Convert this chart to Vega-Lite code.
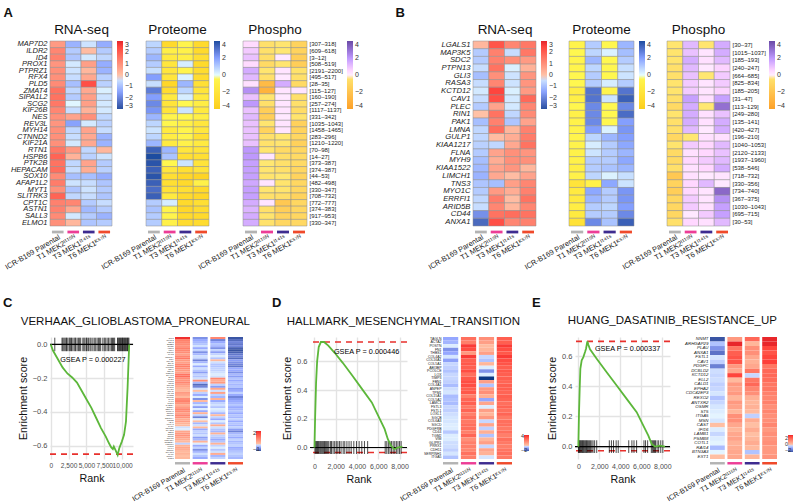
{
"$schema":"https://vega.github.io/schema/vega-lite/v6.json",
"padding":{"left":3,"top":6,"right":0,"bottom":0},
"config":{"font":"Liberation Sans","view":{"stroke":null},
 "axis":{"labelFont":"Liberation Sans","titleFont":"Liberation Sans","labelColor":"#222222","titleColor":"#111111"},
 "legend":{"labelFont":"Liberation Sans","labelFontSize":7,"labelColor":"#333333"},
 "title":{"font":"Liberation Sans","fontWeight":"normal","fontSize":13.5,"offset":4,"color":"#111111"}},
"datasets":{
"A":[
{"g":"MAP7D2","k":"MAP7D2|[307–318]","rP":0.8,"rT1":-1.2,"rT3":-0.4,"rT6":-1.3,"pP":0.8,"pT1":-3,"pT3":-0.5,"pT6":-3,"fP":0.4,"fT1":-0.5,"fT3":-0.2,"fT6":-1.2},
{"g":"ILDR2","k":"ILDR2|[609–618]","rP":1.2,"rT1":-0.8,"rT3":0.1,"rT6":-0.8,"pP":1.0,"pT1":-1.0,"pT3":-0.8,"pT6":-3,"fP":0.8,"fT1":-0.5,"fT3":-0.1,"fT6":-1.2},
{"g":"ID4","k":"ID4|[3–12]","rP":1.3,"rT1":-0.9,"rT3":-0.3,"rT6":-0.6,"pP":1.5,"pT1":-1.5,"pT3":-1,"pT6":-2.5,"fP":1.0,"fT1":-0.6,"fT3":0.1,"fT6":-1.5},
{"g":"PROX1","k":"PROX1|[508–519]","rP":0.9,"rT1":-0.3,"rT3":0.7,"rT6":-1.3,"pP":1.0,"pT1":-1.8,"pT3":0.3,"pT6":-3,"fP":0.4,"fT1":-0.8,"fT3":-0.2,"fT6":-1.5},
{"g":"PTPRZ1","k":"PTPRZ1|[2191–2200]","rP":1.0,"rT1":-0.4,"rT3":0.2,"rT6":-1.2,"pP":0.6,"pT1":-1.8,"pT3":-0.5,"pT6":-2.8,"fP":1.5,"fT1":-0.2,"fT3":0.2,"fT6":-0.4},
{"g":"RFX4","k":"RFX4|[495–517]","rP":1.0,"rT1":-0.5,"rT3":0.5,"rT6":-0.7,"pP":2.0,"pT1":-1.8,"pT3":0.2,"pT6":-2.8,"fP":1.2,"fT1":-0.5,"fT3":0.1,"fT6":-0.5},
{"g":"PLD5","k":"PLD5|[28–35]","rP":1.1,"rT1":-1.0,"rT3":2.3,"rT6":-0.7,"pP":0.6,"pT1":-3.2,"pT3":1.5,"pT6":-2.4,"fP":0.3,"fT1":-2.5,"fT3":1.5,"fT6":-0.8},
{"g":"ZMAT4","k":"ZMAT4|[115–127]","rP":1.6,"rT1":-0.6,"rT3":0.5,"rT6":-0.2,"pP":2.8,"pT1":-2.8,"pT3":0.8,"pT6":-2,"fP":2.2,"fT1":-3.0,"fT3":0.2,"fT6":0.2},
{"g":"SIPA1L2","k":"SIPA1L2|[160–190]","rP":1.6,"rT1":-0.8,"rT3":0.7,"rT6":-0.4,"pP":2.0,"pT1":-1.5,"pT3":0.3,"pT6":-1.5,"fP":1.0,"fT1":-0.2,"fT3":0.1,"fT6":-0.5},
{"g":"SCG2","k":"SCG2|[257–274]","rP":1.5,"rT1":-0.1,"rT3":0.7,"rT6":-0.3,"pP":2.5,"pT1":-2.0,"pT3":-0.2,"pT6":-1.2,"fP":2.0,"fT1":-0.5,"fT3":0.2,"fT6":-0.5},
{"g":"KIF26B","k":"KIF26B|[1117–1137]","rP":1.2,"rT1":-0.5,"rT3":0.3,"rT6":-0.3,"pP":2.2,"pT1":-2.0,"pT3":0.5,"pT6":-1.6,"fP":1.0,"fT1":-1.5,"fT3":0.2,"fT6":-0.7},
{"g":"NES","k":"NES|[331–342]","rP":1.0,"rT1":0.6,"rT3":1.0,"rT6":-0.6,"pP":1.5,"pT1":-0.5,"pT3":-0.3,"pT6":-1.0,"fP":1.2,"fT1":-1.5,"fT3":0.1,"fT6":-0.3},
{"g":"REV3L","k":"REV3L|[1035–1043]","rP":0.9,"rT1":-1.5,"rT3":-0.3,"rT6":-0.7,"pP":0.8,"pT1":-0.4,"pT3":-1.0,"pT6":-1.8,"fP":1.0,"fT1":-0.2,"fT3":0.2,"fT6":-1.3},
{"g":"MYH14","k":"MYH14|[1458–1465]","rP":1.0,"rT1":-0.6,"rT3":0.6,"rT6":-0.5,"pP":0.5,"pT1":-1.5,"pT3":-0.5,"pT6":-1.8,"fP":1.0,"fT1":-1.2,"fT3":0.2,"fT6":-1.2},
{"g":"CTNND2","k":"CTNND2|[283–296]","rP":1.0,"rT1":-0.5,"rT3":0.5,"rT6":-1.2,"pP":0.8,"pT1":-1.2,"pT3":-0.5,"pT6":-2.5,"fP":1.0,"fT1":-0.5,"fT3":-0.1,"fT6":-1.0},
{"g":"KIF21A","k":"KIF21A|[1210–1220]","rP":1.0,"rT1":-0.3,"rT3":0.5,"rT6":-1.2,"pP":1.5,"pT1":-1.5,"pT3":-0.8,"pT6":-1.5,"fP":1.0,"fT1":-0.4,"fT3":-0.2,"fT6":-1.3},
{"g":"RTN1","k":"RTN1|[70–98]","rP":1.5,"rT1":0.8,"rT3":-0.6,"rT6":0.2,"pP":3.5,"pT1":1.5,"pT3":-1.8,"pT6":-2,"fP":2.0,"fT1":-0.2,"fT3":-0.8,"fT6":-1.0},
{"g":"HSPB6","k":"HSPB6|[14–27]","rP":1.9,"rT1":0.3,"rT3":-0.7,"rT6":-0.4,"pP":4.0,"pT1":1.2,"pT3":-2.5,"pT6":-2.5,"fP":2.0,"fT1":0.2,"fT3":-0.6,"fT6":-0.8},
{"g":"PTK2B","k":"PTK2B|[373–387]","rP":1.6,"rT1":-0.6,"rT3":0.6,"rT6":-0.8,"pP":3.8,"pT1":-0.3,"pT3":0.5,"pT6":-2,"fP":1.8,"fT1":-0.1,"fT3":-0.5,"fT6":-0.8},
{"g":"HEPACAM","k":"HEPACAM|[374–387]","rP":1.7,"rT1":-0.5,"rT3":0.4,"rT6":-0.7,"pP":3.5,"pT1":-1.8,"pT3":-2.5,"pT6":-2.0,"fP":1.8,"fT1":-0.2,"fT3":-0.5,"fT6":-1.0},
{"g":"SOX10","k":"SOX10|[44–53]","rP":1.1,"rT1":-1.0,"rT3":-1.0,"rT6":-1.3,"pP":3.8,"pT1":-2.5,"pT3":-3.2,"pT6":-3.5,"fP":1.8,"fT1":-0.3,"fT3":-0.1,"fT6":-1.2},
{"g":"AFAP1L2","k":"AFAP1L2|[482–498]","rP":1.4,"rT1":-0.4,"rT3":-0.5,"rT6":-0.9,"pP":3.5,"pT1":-2.5,"pT3":-3,"pT6":-0.8,"fP":1.6,"fT1":0.2,"fT3":-0.3,"fT6":-1.0},
{"g":"MYT1","k":"MYT1|[330–347]","rP":1.0,"rT1":-0.9,"rT3":-0.4,"rT6":-0.8,"pP":3.2,"pT1":-2.2,"pT3":-2.5,"pT6":-3,"fP":1.8,"fT1":-0.2,"fT3":-0.3,"fT6":-1.0},
{"g":"SLITRK3","k":"SLITRK3|[708–732]","rP":1.9,"rT1":-0.6,"rT3":-0.5,"rT6":-0.9,"pP":3.5,"pT1":-1.5,"pT3":-3,"pT6":-3.2,"fP":1.8,"fT1":-0.5,"fT3":-0.6,"fT6":-1.2},
{"g":"CPT1C","k":"CPT1C|[772–777]","rP":1.3,"rT1":1.2,"rT3":-0.8,"rT6":-0.5,"pP":1.0,"pT1":0.3,"pT3":-3,"pT6":-2.5,"fP":1.5,"fT1":0.2,"fT3":-1.8,"fT6":-1.0},
{"g":"ASTN1","k":"ASTN1|[374–383]","rP":1.3,"rT1":0.5,"rT3":-1.1,"rT6":-0.8,"pP":1.2,"pT1":-0.5,"pT3":-3.2,"pT6":-2.8,"fP":1.3,"fT1":-0.5,"fT3":-1.5,"fT6":-1.0},
{"g":"SALL3","k":"SALL3|[917–953]","rP":1.1,"rT1":-0.3,"rT3":-0.8,"rT6":-1.2,"pP":1.0,"pT1":-0.5,"pT3":-3.0,"pT6":-3.0,"fP":1.5,"fT1":-0.3,"fT3":-1.2,"fT6":-1.0},
{"g":"ELMO1","k":"ELMO1|[330–347]","rP":1.0,"rT1":0.2,"rT3":-0.9,"rT6":-0.8,"pP":1.0,"pT1":-0.8,"pT3":-2.8,"pT6":-2.8,"fP":1.5,"fT1":-0.4,"fT3":-1.0,"fT6":-0.9}
],
"B":[
{"g":"LGALS1","k":"LGALS1|[30–37]","rP":0.2,"rT1":2.2,"rT3":1.2,"rT6":1.5,"pP":-0.6,"pT1":1.0,"pT3":-0.3,"pT6":1.5,"fP":-0.2,"fT1":1.2,"fT3":-0.2,"fT6":1.5},
{"g":"MAP3K5","k":"MAP3K5|[1015–1037]","rP":-0.8,"rT1":1.3,"rT3":-0.5,"rT6":1.5,"pP":-0.3,"pT1":0.8,"pT3":0.2,"pT6":1.3,"fP":-0.3,"fT1":1.0,"fT3":0.2,"fT6":1.5},
{"g":"SDC2","k":"SDC2|[185–193]","rP":-0.8,"rT1":1.3,"rT3":1.0,"rT6":0.8,"pP":-0.5,"pT1":1.5,"pT3":-0.2,"pT6":1.0,"fP":-0.3,"fT1":1.5,"fT3":0.3,"fT6":1.2},
{"g":"PTPN13","k":"PTPN13|[240–247]","rP":-0.5,"rT1":1.6,"rT3":-0.2,"rT6":0.3,"pP":-0.5,"pT1":0.8,"pT3":-0.3,"pT6":0.6,"fP":-0.5,"fT1":1.2,"fT3":0.1,"fT6":0.6},
{"g":"GLI3","k":"GLI3|[664–685]","rP":-1.0,"rT1":1.0,"rT3":-0.4,"rT6":0.9,"pP":-0.3,"pT1":1.0,"pT3":-0.3,"pT6":0.5,"fP":-0.5,"fT1":1.0,"fT3":-0.1,"fT6":0.8},
{"g":"RASA3","k":"RASA3|[825–834]","rP":-0.5,"rT1":1.2,"rT3":-0.4,"rT6":0.9,"pP":-0.3,"pT1":1.0,"pT3":0.3,"pT6":1.0,"fP":-0.3,"fT1":0.8,"fT3":0.2,"fT6":0.8},
{"g":"KCTD12","k":"KCTD12|[185–205]","rP":-0.3,"rT1":2.5,"rT3":-0.2,"rT6":0.8,"pP":-1.2,"pT1":3.0,"pT3":-0.5,"pT6":3.0,"fP":-0.3,"fT1":0.8,"fT3":0.2,"fT6":0.6},
{"g":"CAV1","k":"CAV1|[31–47]","rP":-0.5,"rT1":2.3,"rT3":-0.3,"rT6":1.8,"pP":-1.0,"pT1":3.0,"pT3":0.5,"pT6":3.5,"fP":-0.5,"fT1":1.8,"fT3":0.3,"fT6":1.8},
{"g":"PLEC","k":"PLEC|[113–129]","rP":-0.8,"rT1":0.6,"rT3":-0.3,"rT6":1.2,"pP":-0.4,"pT1":2.5,"pT3":-0.2,"pT6":2.5,"fP":-0.8,"fT1":1.5,"fT3":-0.1,"fT6":3.0},
{"g":"RIN1","k":"RIN1|[249–280]","rP":0.0,"rT1":1.6,"rT3":-0.6,"rT6":1.1,"pP":-0.8,"pT1":2.5,"pT3":-0.2,"pT6":3.2,"fP":-0.3,"fT1":1.5,"fT3":0.3,"fT6":1.0},
{"g":"PAK1","k":"PAK1|[135–141]","rP":-1.0,"rT1":1.3,"rT3":-0.9,"rT6":0.6,"pP":-0.7,"pT1":2.5,"pT3":-0.3,"pT6":2.0,"fP":-0.5,"fT1":1.5,"fT3":0.3,"fT6":1.5},
{"g":"LMNA","k":"LMNA|[420–427]","rP":-0.6,"rT1":1.7,"rT3":0.2,"rT6":1.3,"pP":-0.6,"pT1":2.0,"pT3":0.2,"pT6":2.2,"fP":-0.5,"fT1":1.2,"fT3":0.1,"fT6":1.5},
{"g":"GULP1","k":"GULP1|[196–210]","rP":-0.6,"rT1":0.1,"rT3":0.4,"rT6":1.4,"pP":-0.5,"pT1":0.8,"pT3":1.5,"pT6":2.0,"fP":-1.0,"fT1":-0.1,"fT3":0.3,"fT6":0.3},
{"g":"KIAA1217","k":"KIAA1217|[1040–1053]","rP":-0.7,"rT1":-0.6,"rT3":0.5,"rT6":1.6,"pP":-0.6,"pT1":0.3,"pT3":1.0,"pT6":1.8,"fP":-0.3,"fT1":0.8,"fT3":0.5,"fT6":1.2},
{"g":"FLNA","k":"FLNA|[2120–2133]","rP":-0.8,"rT1":0.6,"rT3":1.0,"rT6":0.9,"pP":-0.8,"pT1":0.5,"pT3":1.0,"pT6":1.5,"fP":-0.8,"fT1":0.3,"fT3":0.5,"fT6":1.0},
{"g":"MYH9","k":"MYH9|[1937–1960]","rP":-1.0,"rT1":0.4,"rT3":1.0,"rT6":1.0,"pP":-0.8,"pT1":1.0,"pT3":1.0,"pT6":1.8,"fP":-0.8,"fT1":0.5,"fT3":0.8,"fT6":1.2},
{"g":"KIAA1522","k":"KIAA1522|[538–546]","rP":-1.1,"rT1":0.6,"rT3":0.9,"rT6":0.2,"pP":-1.0,"pT1":1.0,"pT3":1.2,"pT6":1.5,"fP":-0.5,"fT1":0.3,"fT3":0.5,"fT6":1.5},
{"g":"LIMCH1","k":"LIMCH1|[718–732]","rP":-1.2,"rT1":0.5,"rT3":0.1,"rT6":0.6,"pP":-0.8,"pT1":0.8,"pT3":0.2,"pT6":0.6,"fP":-1.8,"fT1":0.3,"fT3":0.1,"fT6":0.2},
{"g":"TNS3","k":"TNS3|[330–356]","rP":-0.9,"rT1":-1.0,"rT3":0.7,"rT6":1.2,"pP":-2.0,"pT1":-0.8,"pT3":1.8,"pT6":0.5,"fP":-1.2,"fT1":0.5,"fT3":1.2,"fT6":0.1},
{"g":"MYO1C","k":"MYO1C|[734–740]","rP":-0.8,"rT1":0.8,"rT3":0.4,"rT6":1.3,"pP":-1.5,"pT1":1.8,"pT3":1.0,"pT6":2.2,"fP":-1.5,"fT1":0.5,"fT3":0.2,"fT6":3.2},
{"g":"ERRFI1","k":"ERRFI1|[367–375]","rP":-0.6,"rT1":1.4,"rT3":0.1,"rT6":1.6,"pP":-1.5,"pT1":1.5,"pT3":1.0,"pT6":2.2,"fP":-1.0,"fT1":0.8,"fT3":0.2,"fT6":2.2},
{"g":"ARID5B","k":"ARID5B|[1030–1043]","rP":-0.5,"rT1":1.2,"rT3":0.2,"rT6":1.2,"pP":-1.2,"pT1":1.0,"pT3":0.8,"pT6":2.0,"fP":-1.0,"fT1":0.8,"fT3":0.3,"fT6":1.8},
{"g":"CD44","k":"CD44|[695–715]","rP":-1.8,"rT1":1.6,"rT3":1.7,"rT6":1.6,"pP":-1.5,"pT1":1.0,"pT3":1.0,"pT6":2.5,"fP":-1.0,"fT1":0.1,"fT3":0.8,"fT6":1.8},
{"g":"ANXA1","k":"ANXA1|[30–53]","rP":-2.5,"rT1":2.3,"rT3":1.2,"rT6":1.3,"pP":-2.2,"pT1":2.5,"pT3":1.2,"pT6":3.5,"fP":-0.5,"fT1":0.5,"fT3":0.3,"fT6":1.2}
],
"C":[
{"g":"DLL3","P":2.2,"T1":-0.8,"T3":0.9,"T6":-1.3},{"g":"NKX2-2","P":1.0,"T1":-0.6,"T3":-0.9,"T6":-1.1},{"g":"SOX2","P":0.9,"T1":-0.5,"T3":-0.6,"T6":-0.9},{"g":"ERBB3","P":0.8,"T1":-0.4,"T3":-0.4,"T6":-1.0},{"g":"OLIG2","P":0.7,"T1":-0.2,"T3":-0.5,"T6":-0.9},{"g":"ASCL1","P":1.0,"T1":-0.6,"T3":-0.8,"T6":-1.2},{"g":"TCF4","P":0.9,"T1":-0.3,"T3":-0.3,"T6":-1.3},{"g":"SOX10","P":0.8,"T1":-0.8,"T3":-0.7,"T6":-1.2},{"g":"MAP2","P":0.5,"T1":-0.5,"T3":-0.3,"T6":-1.0},{"g":"PDGFRA","P":0.9,"T1":-0.2,"T3":-0.1,"T6":-0.9},
{"g":"DCX","P":1.1,"T1":-0.3,"T3":-0.4,"T6":-1.1},{"g":"NCAM1","P":0.6,"T1":-0.9,"T3":0.1,"T6":-0.7},{"g":"BCAN","P":0.5,"T1":-0.5,"T3":-0.2,"T6":-0.8},{"g":"GPR17","P":0.9,"T1":-0.1,"T3":-0.4,"T6":-0.9},{"g":"PTPRZ1","P":1.0,"T1":-0.6,"T3":-0.4,"T6":-1.0},{"g":"SOX4","P":0.8,"T1":-0.2,"T3":-0.3,"T6":-0.6},{"g":"SOX11","P":0.6,"T1":-0.4,"T3":-0.3,"T6":-0.6},{"g":"TMEFF1","P":0.5,"T1":-0.7,"T3":-0.2,"T6":-0.8},{"g":"ELAVL3","P":1.2,"T1":-0.3,"T3":-0.1,"T6":-0.5},{"g":"DPF1","P":1.3,"T1":-0.4,"T3":-0.2,"T6":-0.7},
{"g":"CHD7","P":0.8,"T1":-0.2,"T3":0.9,"T6":-0.4},{"g":"KLRC3","P":0.7,"T1":0.8,"T3":0.3,"T6":-0.6},{"g":"UGT8","P":0.9,"T1":-0.5,"T3":0.6,"T6":-0.4},{"g":"NRXN2","P":0.6,"T1":-1.1,"T3":-0.3,"T6":-0.5},{"g":"MAST1","P":0.4,"T1":-0.9,"T3":-0.7,"T6":-0.4},{"g":"FXYD6","P":0.2,"T1":-0.2,"T3":0.4,"T6":-0.7},{"g":"GRIA2","P":0.1,"T1":0.0,"T3":-0.2,"T6":-0.6},{"g":"HDAC2","P":0.6,"T1":-0.3,"T3":0.5,"T6":-0.3},{"g":"KIF21B","P":0.4,"T1":-0.6,"T3":-0.3,"T6":-0.6},{"g":"MLLT11","P":0.1,"T1":-0.1,"T3":-0.5,"T6":-0.9},
{"g":"MYT1","P":0.8,"T1":-0.8,"T3":0.2,"T6":-0.7},{"g":"PAK7","P":1.0,"T1":0.1,"T3":-0.6,"T6":-0.6},{"g":"PLCL1","P":0.7,"T1":-0.5,"T3":-0.3,"T6":-0.5},{"g":"RAB33A","P":0.3,"T1":-0.2,"T3":-0.2,"T6":-0.4},{"g":"SCN3A","P":0.6,"T1":-0.7,"T3":-0.4,"T6":-0.6},{"g":"SEMA6A","P":0.9,"T1":-0.1,"T3":-0.1,"T6":-0.5},{"g":"SLC1A1","P":0.8,"T1":-0.6,"T3":-0.2,"T6":-0.4},{"g":"STMN4","P":0.5,"T1":0.2,"T3":-0.5,"T6":-0.6},{"g":"ZNF711","P":0.9,"T1":-0.3,"T3":0.1,"T6":-0.4},{"g":"ZNF804A","P":0.7,"T1":-0.9,"T3":-0.3,"T6":-0.5},
{"g":"TOP2B","P":0.3,"T1":-0.1,"T3":-0.6,"T6":-0.3},{"g":"ABAT","P":0.5,"T1":0.0,"T3":-0.1,"T6":-0.6},{"g":"ATP1A3","P":0.2,"T1":-0.5,"T3":-0.4,"T6":-0.4},{"g":"CASK","P":0.1,"T1":-0.2,"T3":0.3,"T6":-0.5},{"g":"CDK5R1","P":-0.2,"T1":0.1,"T3":-0.2,"T6":-0.3},{"g":"CLASP2","P":-0.1,"T1":-0.6,"T3":-0.4,"T6":-0.7},{"g":"DBN1","P":0.4,"T1":-0.3,"T3":-0.5,"T6":-0.9},{"g":"DNM3","P":0.6,"T1":-0.4,"T3":0.2,"T6":-0.5},{"g":"GRIK2","P":0.7,"T1":-0.2,"T3":-0.3,"T6":-0.4},{"g":"NRXN1","P":0.5,"T1":-0.7,"T3":-0.4,"T6":-0.6},
{"g":"PCDH11X","P":0.3,"T1":-0.5,"T3":-0.6,"T6":-0.3},{"g":"TMSB15A","P":0.1,"T1":0.2,"T3":-0.4,"T6":-0.5},{"g":"LRRTM4","P":-0.3,"T1":-0.1,"T3":0.2,"T6":-0.4},{"g":"FLRT1","P":0.2,"T1":-0.6,"T3":-0.3,"T6":-0.3},{"g":"KLHL4","P":0.4,"T1":-0.3,"T3":-0.1,"T6":-0.6},{"g":"CRMP1","P":0.3,"T1":-0.8,"T3":-0.4,"T6":-0.5},{"g":"DPYSL3","P":0.1,"T1":-0.5,"T3":-0.2,"T6":-0.4},{"g":"MAPT","P":0.2,"T1":-0.2,"T3":0.3,"T6":-0.3},{"g":"GPM6A","P":0.0,"T1":-0.4,"T3":-0.5,"T6":-0.4},{"g":"SCG3","P":0.1,"T1":-0.6,"T3":-0.3,"T6":-0.5}
],
"D":[
{"g":"TAGLN","P":-1.2,"T1":2.5,"T3":1.5,"T6":3.0},{"g":"ACTA2","P":-1.0,"T1":2.0,"T3":1.0,"T6":3.0},{"g":"POSTN","P":-0.2,"T1":4.0,"T3":0.1,"T6":4.0},{"g":"FN1","P":-1.5,"T1":3.5,"T3":0.3,"T6":3.5},{"g":"THBS1","P":-1.2,"T1":1.2,"T3":1.0,"T6":3.2},{"g":"COL4A2","P":-0.3,"T1":4.0,"T3":-0.5,"T6":4.0},{"g":"COL16A1","P":-1.3,"T1":3.0,"T3":-0.8,"T6":3.5},{"g":"COL5A1","P":-0.5,"T1":3.2,"T3":0.3,"T6":3.3},{"g":"ABI3BP","P":-0.6,"T1":3.0,"T3":-0.2,"T6":3.0},{"g":"PCOLCE","P":-0.8,"T1":3.5,"T3":-1.5,"T6":3.2},
{"g":"LOX","P":-0.5,"T1":2.5,"T3":-0.2,"T6":3.0},{"g":"TIMP3","P":-0.5,"T1":3.2,"T3":-3.0,"T6":3.0},{"g":"FBN1","P":-0.6,"T1":3.5,"T3":1.0,"T6":2.8},{"g":"COL4A1","P":-0.9,"T1":3.5,"T3":-0.8,"T6":3.0},{"g":"ANPEP","P":-0.4,"T1":3.0,"T3":1.2,"T6":3.0},{"g":"TPM1","P":-0.3,"T1":3.2,"T3":1.5,"T6":2.8},{"g":"COL15A1","P":-0.9,"T1":2.0,"T3":0.5,"T6":3.0},{"g":"COL5A2","P":-0.8,"T1":2.8,"T3":-1.2,"T6":2.8},{"g":"LAMC1","P":-0.9,"T1":3.0,"T3":0.8,"T6":2.5},{"g":"FSTL3","P":-0.5,"T1":2.2,"T3":-0.2,"T6":2.8},
{"g":"FSTL1","P":-0.6,"T1":2.8,"T3":1.0,"T6":2.5},{"g":"LOXL1","P":-0.4,"T1":2.0,"T3":0.3,"T6":2.8},{"g":"SGCB","P":-0.3,"T1":2.5,"T3":1.2,"T6":2.2},{"g":"COL6A3","P":-0.3,"T1":2.2,"T3":-0.5,"T6":2.5},{"g":"SGCD","P":-0.2,"T1":2.5,"T3":0.8,"T6":2.5},{"g":"PDGFRB","P":-0.2,"T1":2.5,"T3":-0.6,"T6":2.2},{"g":"CD44","P":-0.7,"T1":2.0,"T3":0.5,"T6":2.5},{"g":"TGM2","P":-0.2,"T1":2.8,"T3":-0.8,"T6":2.0},{"g":"VIM","P":-0.2,"T1":1.5,"T3":0.3,"T6":2.5},{"g":"GLIPR1","P":-0.4,"T1":2.0,"T3":1.0,"T6":2.2},
{"g":"PRRX1","P":-0.4,"T1":2.0,"T3":-0.5,"T6":2.0},{"g":"CDH11","P":-0.6,"T1":1.8,"T3":0.8,"T6":2.3},{"g":"SERPINH1","P":-0.3,"T1":2.4,"T3":0.4,"T6":2.5},{"g":"ITGA5","P":-0.8,"T1":2.0,"T3":-0.3,"T6":2.2}
],
"E":[
{"g":"NNMT","P":-2.5,"T1":0.8,"T3":1.8,"T6":3.0},{"g":"ARHGAP29","P":-0.8,"T1":3.0,"T3":0.2,"T6":3.0},{"g":"PLAU","P":-1.5,"T1":1.5,"T3":1.0,"T6":2.5},{"g":"ANXA1","P":-2.0,"T1":2.0,"T3":1.0,"T6":2.2},{"g":"FSTL1","P":-0.3,"T1":2.2,"T3":0.5,"T6":2.5},{"g":"CAV1","P":-0.6,"T1":2.2,"T3":0.3,"T6":2.6},{"g":"PDGFC","P":-1.8,"T1":0.8,"T3":0.5,"T6":1.5},{"g":"DCBLD2","P":-0.4,"T1":0.5,"T3":1.5,"T6":1.8},{"g":"KCTD12","P":-0.5,"T1":2.5,"T3":-0.5,"T6":1.8},
{"g":"ELL2","P":-0.4,"T1":0.1,"T3":1.5,"T6":1.7},{"g":"CALD1","P":-0.6,"T1":0.8,"T3":1.8,"T6":1.5},{"g":"EPHA2","P":-0.5,"T1":0.6,"T3":1.2,"T6":1.5},{"g":"CDC42EP3","P":-0.3,"T1":0.8,"T3":1.0,"T6":1.3},{"g":"REXO2","P":-0.8,"T1":0.2,"T3":0.3,"T6":1.2},{"g":"ANTXR2","P":-0.5,"T1":0.8,"T3":0.2,"T6":1.3},{"g":"OSMR","P":-0.3,"T1":0.6,"T3":0.3,"T6":1.0},{"g":"ST5","P":-0.2,"T1":0.2,"T3":0.1,"T6":1.2},{"g":"ITGA5","P":-0.1,"T1":1.0,"T3":-0.6,"T6":1.0},
{"g":"MSN","P":-0.3,"T1":1.0,"T3":0.4,"T6":1.0},{"g":"CAST","P":0.0,"T1":0.5,"T3":0.0,"T6":1.2},{"g":"IFI16","P":-0.2,"T1":0.2,"T3":0.4,"T6":0.8},{"g":"LAMB1","P":-0.5,"T1":0.5,"T3":0.0,"T6":1.0},{"g":"PSMB8","P":-0.2,"T1":0.6,"T3":0.2,"T6":0.9},{"g":"COTL1","P":-0.1,"T1":0.3,"T3":0.4,"T6":1.0},{"g":"RAI14","P":-0.9,"T1":0.4,"T3":0.1,"T6":0.8},{"g":"BTN3A3","P":-0.1,"T1":0.5,"T3":-0.8,"T6":0.8},{"g":"EXT1","P":0.0,"T1":0.5,"T3":0.2,"T6":0.9}
],
"cCurve":[{"rank":0,"es":0},{"rank":314,"es":-0.036},{"rank":987,"es":-0.086},{"rank":1659,"es":-0.136},{"rank":2332,"es":-0.172},{"rank":3004,"es":-0.196},{"rank":3677,"es":-0.226},{"rank":4350,"es":-0.276},{"rank":5022,"es":-0.326},{"rank":5695,"es":-0.376},{"rank":6368,"es":-0.436},{"rank":7040,"es":-0.496},{"rank":7713,"es":-0.546},{"rank":8161,"es":-0.586},{"rank":8475,"es":-0.61},{"rank":8700,"es":-0.62},{"rank":8834,"es":-0.605},{"rank":9058,"es":-0.625},{"rank":9372,"es":-0.655},{"rank":9596,"es":-0.615},{"rank":9955,"es":-0.576},{"rank":10269,"es":-0.536},{"rank":10538,"es":-0.456},{"rank":10762,"es":-0.256},{"rank":10987,"es":0}],
"dCurve":[{"rank":0,"es":0},{"rank":60,"es":0.2},{"rank":150,"es":0.45},{"rank":250,"es":0.6},{"rank":400,"es":0.7},{"rank":600,"es":0.735},{"rank":900,"es":0.735},{"rank":1300,"es":0.71},{"rank":1900,"es":0.66},{"rank":2660,"es":0.59},{"rank":3570,"es":0.5},{"rank":4480,"es":0.407},{"rank":5390,"es":0.314},{"rank":6000,"es":0.22},{"rank":6600,"es":0.128},{"rank":6900,"es":0.058},{"rank":7210,"es":0.012},{"rank":7510,"es":-0.012},{"rank":7820,"es":0},{"rank":8270,"es":0.007}],
"eCurve":[{"rank":0,"es":0},{"rank":63,"es":0.228},{"rank":127,"es":0.383},{"rank":190,"es":0.515},{"rank":317,"es":0.571},{"rank":476,"es":0.593},{"rank":635,"es":0.626},{"rank":730,"es":0.648},{"rank":857,"es":0.697},{"rank":952,"es":0.675},{"rank":1111,"es":0.644},{"rank":1746,"es":0.582},{"rank":2698,"es":0.493},{"rank":3651,"es":0.405},{"rank":4603,"es":0.316},{"rank":5556,"es":0.228},{"rank":6190,"es":0.139},{"rank":6667,"es":0.073},{"rank":6984,"es":0.018},{"rank":7302,"es":0},{"rank":7778,"es":0.007},{"rank":8254,"es":0}],
"cHits":[{"rank":570},{"rank":1580},{"rank":1700},{"rank":1850},{"rank":2000},{"rank":2150},{"rank":2230},{"rank":2400},{"rank":2600},{"rank":2750},{"rank":2900},{"rank":3000},{"rank":3250},{"rank":3400},{"rank":3500},{"rank":3700},{"rank":3900},{"rank":4050},{"rank":4200},{"rank":4500},{"rank":4650},{"rank":4800},{"rank":5000},{"rank":5100},{"rank":5300},{"rank":5500},{"rank":5650},{"rank":5900},{"rank":6100},{"rank":6300},{"rank":6500},{"rank":6700},{"rank":6850},{"rank":7000},{"rank":7300},{"rank":7500},{"rank":7700},{"rank":7900},{"rank":8100},{"rank":8300},{"rank":8500},{"rank":8650},{"rank":8800},{"rank":8950},{"rank":9350},{"rank":9450},{"rank":9550},{"rank":9650},{"rank":9750},{"rank":9850},{"rank":9950},{"rank":10050},{"rank":10150},{"rank":10250},{"rank":10350},{"rank":10450},{"rank":10550},{"rank":10650},{"rank":10750},{"rank":10850},{"rank":10950}],
"dHits":[{"rank":50},{"rank":120},{"rank":200},{"rank":280},{"rank":360},{"rank":430},{"rank":520},{"rank":600},{"rank":690},{"rank":780},{"rank":870},{"rank":950},{"rank":1050},{"rank":1150},{"rank":1250},{"rank":1350},{"rank":1500},{"rank":1600},{"rank":1750},{"rank":1900},{"rank":2050},{"rank":2200},{"rank":2350},{"rank":2500},{"rank":2700},{"rank":2850},{"rank":3050},{"rank":3250},{"rank":3450},{"rank":3700},{"rank":3950},{"rank":4200},{"rank":4450},{"rank":4700},{"rank":5000},{"rank":6650},{"rank":6800},{"rank":6950},{"rank":7100},{"rank":7250},{"rank":7400},{"rank":7550},{"rank":7700},{"rank":7850},{"rank":8000},{"rank":8150}],
"eHits":[{"rank":10},{"rank":60},{"rank":120},{"rank":180},{"rank":250},{"rank":320},{"rank":400},{"rank":470},{"rank":540},{"rank":620},{"rank":700},{"rank":780},{"rank":860},{"rank":950},{"rank":1050},{"rank":1150},{"rank":1280},{"rank":1400},{"rank":1550},{"rank":1750},{"rank":2950},{"rank":3150},{"rank":3350},{"rank":3600},{"rank":3800},{"rank":4800},{"rank":5100},{"rank":5300},{"rank":5550},{"rank":6250},{"rank":6400},{"rank":6600},{"rank":6950},{"rank":7050},{"rank":7150},{"rank":7250},{"rank":7350},{"rank":7500},{"rank":7650},{"rank":7850},{"rank":8050}],
"cRef":[{"lv":-0.65}],
"dRef":[{"lv":0.735},{"lv":-0.035}],
"eRef":[{"lv":0.697},{"lv":-0.027}]
},
"vconcat":[
{"hconcat":[
 {"hconcat":[
  {"width":62,"height":185,"data":{"name":"A"},"transform":[{"fold":["rP","rT1","rT3","rT6"],"as":["s","v"]}],
   "layer":[
    {"mark":{"type":"rect","stroke":"#8f8f8f","strokeWidth":0.5},
     "encoding":{"x":{"field":"s","type":"nominal","sort":null,"axis":{"title":"RNA-seq","titleX":31,"titleY":-196,"titleAngle":0,"titleAlign":"center","titleBaseline":"bottom","titleFontSize":13.5,"titleFontWeight":"normal","labelAngle":-30,"labelFontSize":7.4,"ticks":false,"domain":false,"labelPadding":1,"offset":6,"labelAlign":"right","labelBaseline":"top","labelExpr":"slice(datum.value,1)=='P'?'ICR-B169 Parental':slice(datum.value,1)=='T1'?'T1 MEK2ᴵ¹¹⁵ᴺ':slice(datum.value,1)=='T3'?'T3 MEK1ᴵ¹⁴¹ˢ':'T6 MEK1ᴷ⁵⁷ᴺ'"}},
      "y":{"field":"g","type":"nominal","sort":null,"title":"A","axis":{"labelFontStyle":"italic","labelFontSize":7.5,"ticks":false,"domain":false,"labelPadding":3,"titleAngle":0,"titleX":-47,"titleY":-35,"titleAlign":"left","titleBaseline":"top","titleFontSize":13,"titleFontWeight":"bold"}},
      "color":{"field":"v","type":"quantitative","scale":{"domain":[-3,0,3],"range":["#2a50a0","#ffffff","#e3262b"]},"legend":{"title":null,"gradientLength":68,"gradientThickness":6,"values":[-3,-2,-1,0,1,2,3],"offset":5}}}},
    {"transform":[{"filter":"datum.g=='MAP7D2'"}],"mark":{"type":"rect","width":{"band":0.75}},
     "encoding":{"x":{"field":"s","type":"nominal","sort":null},"y":{"datum":-2.5,"type":"quantitative","scale":{"domain":[0,100]},"axis":null},"y2":{"datum":-4},
      "color":{"field":"s","type":"nominal","scale":{"domain":["rP","rT1","rT3","rT6"],"range":["#b3b3b3","#ec3d96","#3e2c90","#ef4a2b"]},"legend":null}}}
   ],"resolve":{"scale":{"y":"independent","color":"independent"},"axis":{"y":"independent"},"legend":{"color":"independent"}}},
  {"width":63,"height":185,"title":{"text":"Proteome","frame":"group"},"data":{"name":"A"},"transform":[{"fold":["pP","pT1","pT3","pT6"],"as":["s","v"]}],
   "layer":[
    {"mark":{"type":"rect","stroke":"#8f8f8f","strokeWidth":0.5},
     "encoding":{"x":{"field":"s","type":"nominal","sort":null,"axis":{"title":null,"labelAngle":-30,"labelFontSize":7.4,"ticks":false,"domain":false,"labelPadding":1,"offset":6,"labelAlign":"right","labelBaseline":"top","labelExpr":"slice(datum.value,1)=='P'?'ICR-B169 Parental':slice(datum.value,1)=='T1'?'T1 MEK2ᴵ¹¹⁵ᴺ':slice(datum.value,1)=='T3'?'T3 MEK1ᴵ¹⁴¹ˢ':'T6 MEK1ᴷ⁵⁷ᴺ'"}},
      "y":{"field":"g","type":"nominal","sort":null,"axis":null},
      "color":{"field":"v","type":"quantitative","scale":{"domain":[-4,0,4],"range":["#f8cf1c","#ffffff","#1d4ca0"]},"legend":{"title":null,"gradientLength":68,"gradientThickness":6,"values":[-4,-2,0,2,4],"offset":5}}}},
    {"transform":[{"filter":"datum.g=='MAP7D2'"}],"mark":{"type":"rect","width":{"band":0.75}},
     "encoding":{"x":{"field":"s","type":"nominal","sort":null},"y":{"datum":-2.5,"type":"quantitative","scale":{"domain":[0,100]},"axis":null},"y2":{"datum":-4},
      "color":{"field":"s","type":"nominal","scale":{"domain":["pP","pT1","pT3","pT6"],"range":["#b3b3b3","#ec3d96","#3e2c90","#ef4a2b"]},"legend":null}}}
   ],"resolve":{"scale":{"y":"independent","color":"independent"},"axis":{"y":"independent"},"legend":{"color":"independent"}}},
  {"width":64,"height":185,"title":{"text":"Phospho","frame":"group"},"data":{"name":"A"},"transform":[{"fold":["fP","fT1","fT3","fT6"],"as":["s","v"]}],
   "layer":[
    {"mark":{"type":"rect","stroke":"#8f8f8f","strokeWidth":0.5},
     "encoding":{"x":{"field":"s","type":"nominal","sort":null,"axis":{"title":null,"labelAngle":-30,"labelFontSize":7.4,"ticks":false,"domain":false,"labelPadding":1,"offset":6,"labelAlign":"right","labelBaseline":"top","labelExpr":"slice(datum.value,1)=='P'?'ICR-B169 Parental':slice(datum.value,1)=='T1'?'T1 MEK2ᴵ¹¹⁵ᴺ':slice(datum.value,1)=='T3'?'T3 MEK1ᴵ¹⁴¹ˢ':'T6 MEK1ᴷ⁵⁷ᴺ'"}},
      "y":{"field":"k","type":"nominal","sort":null,"axis":{"orient":"right","title":null,"labelFontSize":6,"ticks":false,"domain":false,"labelPadding":2,"labelExpr":"split(datum.value,'|')[1]"}},
      "color":{"field":"v","type":"quantitative","scale":{"domain":[-4,0,4],"range":["#f9a129","#ffffff","#6a4aa6"]},"legend":{"title":null,"gradientLength":68,"gradientThickness":6,"values":[-4,-2,0,2,4],"offset":4}}}},
    {"transform":[{"filter":"datum.g=='MAP7D2'"}],"mark":{"type":"rect","width":{"band":0.75}},
     "encoding":{"x":{"field":"s","type":"nominal","sort":null},"y":{"datum":-2.5,"type":"quantitative","scale":{"domain":[0,100]},"axis":null},"y2":{"datum":-4},
      "color":{"field":"s","type":"nominal","scale":{"domain":["fP","fT1","fT3","fT6"],"range":["#b3b3b3","#ec3d96","#3e2c90","#ef4a2b"]},"legend":null}}}
   ],"resolve":{"scale":{"y":"independent","color":"independent"},"axis":{"y":"independent"},"legend":{"color":"independent"}}}
 ],"spacing":34,"bounds":"flush","resolve":{"scale":{"color":"independent"},"legend":{"color":"independent"}}},
 {"hconcat":[
  {"width":63,"height":185,"data":{"name":"B"},"transform":[{"fold":["rP","rT1","rT3","rT6"],"as":["s","v"]}],
   "layer":[
    {"mark":{"type":"rect","stroke":"#8f8f8f","strokeWidth":0.5},
     "encoding":{"x":{"field":"s","type":"nominal","sort":null,"axis":{"title":"RNA-seq","titleX":31.5,"titleY":-196,"titleAngle":0,"titleAlign":"center","titleBaseline":"bottom","titleFontSize":13.5,"titleFontWeight":"normal","labelAngle":-30,"labelFontSize":7.4,"ticks":false,"domain":false,"labelPadding":1,"offset":6,"labelAlign":"right","labelBaseline":"top","labelExpr":"slice(datum.value,1)=='P'?'ICR-B169 Parental':slice(datum.value,1)=='T1'?'T1 MEK2ᴵ¹¹⁵ᴺ':slice(datum.value,1)=='T3'?'T3 MEK1ᴵ¹⁴¹ˢ':'T6 MEK1ᴷ⁵⁷ᴺ'"}},
      "y":{"field":"g","type":"nominal","sort":null,"title":"B","axis":{"labelFontStyle":"italic","labelFontSize":7.7,"ticks":false,"domain":false,"labelPadding":3,"titleAngle":0,"titleX":-78,"titleY":-35,"titleAlign":"left","titleBaseline":"top","titleFontSize":13,"titleFontWeight":"bold"}},
      "color":{"field":"v","type":"quantitative","scale":{"domain":[-3,0,3],"range":["#2a50a0","#ffffff","#e3262b"]},"legend":{"title":null,"gradientLength":68,"gradientThickness":6,"values":[-3,-2,-1,0,1,2,3],"offset":5}}}},
    {"transform":[{"filter":"datum.g=='LGALS1'"}],"mark":{"type":"rect","width":{"band":0.75}},
     "encoding":{"x":{"field":"s","type":"nominal","sort":null},"y":{"datum":-2.5,"type":"quantitative","scale":{"domain":[0,100]},"axis":null},"y2":{"datum":-4},
      "color":{"field":"s","type":"nominal","scale":{"domain":["rP","rT1","rT3","rT6"],"range":["#b3b3b3","#ec3d96","#3e2c90","#ef4a2b"]},"legend":null}}}
   ],"resolve":{"scale":{"y":"independent","color":"independent"},"axis":{"y":"independent"},"legend":{"color":"independent"}}},
  {"width":65,"height":185,"title":{"text":"Proteome","frame":"group"},"data":{"name":"B"},"transform":[{"fold":["pP","pT1","pT3","pT6"],"as":["s","v"]}],
   "layer":[
    {"mark":{"type":"rect","stroke":"#8f8f8f","strokeWidth":0.5},
     "encoding":{"x":{"field":"s","type":"nominal","sort":null,"axis":{"title":null,"labelAngle":-30,"labelFontSize":7.4,"ticks":false,"domain":false,"labelPadding":1,"offset":6,"labelAlign":"right","labelBaseline":"top","labelExpr":"slice(datum.value,1)=='P'?'ICR-B169 Parental':slice(datum.value,1)=='T1'?'T1 MEK2ᴵ¹¹⁵ᴺ':slice(datum.value,1)=='T3'?'T3 MEK1ᴵ¹⁴¹ˢ':'T6 MEK1ᴷ⁵⁷ᴺ'"}},
      "y":{"field":"g","type":"nominal","sort":null,"axis":null},
      "color":{"field":"v","type":"quantitative","scale":{"domain":[-4,0,4],"range":["#f8cf1c","#ffffff","#1d4ca0"]},"legend":{"title":null,"gradientLength":68,"gradientThickness":6,"values":[-4,-2,0,2,4],"offset":5}}}},
    {"transform":[{"filter":"datum.g=='LGALS1'"}],"mark":{"type":"rect","width":{"band":0.75}},
     "encoding":{"x":{"field":"s","type":"nominal","sort":null},"y":{"datum":-2.5,"type":"quantitative","scale":{"domain":[0,100]},"axis":null},"y2":{"datum":-4},
      "color":{"field":"s","type":"nominal","scale":{"domain":["pP","pT1","pT3","pT6"],"range":["#b3b3b3","#ec3d96","#3e2c90","#ef4a2b"]},"legend":null}}}
   ],"resolve":{"scale":{"y":"independent","color":"independent"},"axis":{"y":"independent"},"legend":{"color":"independent"}}},
  {"width":63,"height":185,"title":{"text":"Phospho","frame":"group"},"data":{"name":"B"},"transform":[{"fold":["fP","fT1","fT3","fT6"],"as":["s","v"]}],
   "layer":[
    {"mark":{"type":"rect","stroke":"#8f8f8f","strokeWidth":0.5},
     "encoding":{"x":{"field":"s","type":"nominal","sort":null,"axis":{"title":null,"labelAngle":-30,"labelFontSize":7.4,"ticks":false,"domain":false,"labelPadding":1,"offset":6,"labelAlign":"right","labelBaseline":"top","labelExpr":"slice(datum.value,1)=='P'?'ICR-B169 Parental':slice(datum.value,1)=='T1'?'T1 MEK2ᴵ¹¹⁵ᴺ':slice(datum.value,1)=='T3'?'T3 MEK1ᴵ¹⁴¹ˢ':'T6 MEK1ᴷ⁵⁷ᴺ'"}},
      "y":{"field":"k","type":"nominal","sort":null,"axis":{"orient":"right","title":null,"labelFontSize":6,"ticks":false,"domain":false,"labelPadding":2,"labelExpr":"split(datum.value,'|')[1]"}},
      "color":{"field":"v","type":"quantitative","scale":{"domain":[-4,0,4],"range":["#f9a129","#ffffff","#6a4aa6"]},"legend":{"title":null,"gradientLength":68,"gradientThickness":6,"values":[-4,-2,0,2,4],"offset":3}}}},
    {"transform":[{"filter":"datum.g=='LGALS1'"}],"mark":{"type":"rect","width":{"band":0.75}},
     "encoding":{"x":{"field":"s","type":"nominal","sort":null},"y":{"datum":-2.5,"type":"quantitative","scale":{"domain":[0,100]},"axis":null},"y2":{"datum":-4},
      "color":{"field":"s","type":"nominal","scale":{"domain":["fP","fT1","fT3","fT6"],"range":["#b3b3b3","#ec3d96","#3e2c90","#ef4a2b"]},"legend":null}}}
   ],"resolve":{"scale":{"y":"independent","color":"independent"},"axis":{"y":"independent"},"legend":{"color":"independent"}}}
 ],"spacing":33,"bounds":"flush","resolve":{"scale":{"color":"independent"},"legend":{"color":"independent"}}}
],"spacing":32,"resolve":{"scale":{"color":"independent"},"legend":{"color":"independent"}}},
{"hconcat":[
 {"hconcat":[
  {"width":83,"height":122,"title":{"text":"C","anchor":"start","frame":"group","dx":-47,"offset":27,"fontSize":13,"fontWeight":"bold"},"layer":[
    {"data":{"name":"cRef"},"mark":{"type":"rule","color":"#e8302c","strokeWidth":1.6,"strokeDash":[6,5]},
     "encoding":{"y":{"field":"lv","type":"quantitative","scale":{"domain":[-0.679,0.044],"nice":false,"zero":false},"title":"Enrichment score","axis":{"values":[0,-0.2,-0.4,-0.6],"format":".1f","gridColor":"#e3e3e3","gridWidth":1.4,"ticks":false,"domain":false,"labelFontSize":7.5,"labelColor":"#4d4d4d","titleFontSize":10.7,"titleFontWeight":"normal","labelPadding":3,"titlePadding":4}}}},
    {"data":{"name":"cHits"},"mark":{"type":"rule","color":"#000000","strokeWidth":0.7},
     "encoding":{"x":{"field":"rank","type":"quantitative","scale":{"domain":[-100,11520],"nice":false,"zero":false},"title":"Rank","axis":{"values":[0,2500,5000,7500,10000],"format":",d","labelOverlap":false,"labelFlush":false,"gridColor":"#e3e3e3","gridWidth":1.4,"ticks":false,"domain":false,"labelFontSize":6.6,"labelColor":"#4d4d4d","titleFontSize":10.7,"titleFontWeight":"normal","labelPadding":3,"titlePadding":5}},
      "y":{"datum":-0.04,"title":"Enrichment score"},"y2":{"datum":0.04}}},
    {"data":{"values":[{}]},"mark":{"type":"rule","color":"#000000","strokeWidth":1.2},"encoding":{"y":{"datum":0}}},
    {"data":{"name":"cCurve"},"mark":{"type":"line","color":"#5cb73a","strokeWidth":1.8},"encoding":{"x":{"field":"rank","type":"quantitative","title":"Rank","axis":{"values":[0,2500,5000,7500,10000],"format":",d","labelOverlap":false,"labelFlush":false,"gridColor":"#e3e3e3","gridWidth":1.4,"ticks":false,"domain":false,"labelFontSize":6.6,"labelColor":"#4d4d4d","titleFontSize":10.7,"titleFontWeight":"normal","labelPadding":3,"titlePadding":5}},"y":{"field":"es","type":"quantitative","title":"Enrichment score"}}},
    {"data":{"values":[{}]},"mark":{"type":"text","fontSize":7.3,"align":"center"},"encoding":{"x":{"datum":5900,"title":"Rank","axis":{"values":[0,2500,5000,7500,10000],"format":",d","labelOverlap":false,"labelFlush":false,"gridColor":"#e3e3e3","gridWidth":1.4,"ticks":false,"domain":false,"labelFontSize":6.6,"labelColor":"#4d4d4d","titleFontSize":10.7,"titleFontWeight":"normal","labelPadding":3,"titlePadding":5}},"y":{"datum":-0.092},"text":{"value":"GSEA P = 0.000227"}}}
  ]},
  {"width":68,"height":122,"title":{"text":"VERHAAK_GLIOBLASTOMA_PRONEURAL","anchor":"end","frame":"group","dx":7,"offset":9,"fontSize":11.5},"data":{"name":"C"},"transform":[{"fold":["P","T1","T3","T6"],"as":["s","v"]}],
   "layer":[
    {"mark":"rect",
     "encoding":{"x":{"field":"s","type":"nominal","sort":null,"scale":{"paddingInner":0.15,"paddingOuter":0},"axis":{"title":null,"labelAngle":-30,"labelFontSize":7.1,"ticks":false,"domain":false,"labelPadding":1,"offset":6,"labelAlign":"right","labelBaseline":"top","labelExpr":"datum.value=='P'?'ICR-B169 Parental':datum.value=='T1'?'T1 MEK2ᴵ¹¹⁵ᴺ':datum.value=='T3'?'T3 MEK1ᴵ¹⁴¹ˢ':'T6 MEK1ᴷ⁵⁷ᴺ'"}},
      "y":{"field":"g","type":"nominal","sort":null,"axis":{"title":null,"labelFontSize":2,"ticks":false,"domain":false,"labelPadding":2}},
      "color":{"field":"v","type":"quantitative","scale":{"domain":[-1.3,0,2.3],"range":["#3a55a4","#ffffff","#e8262a"]},"legend":{"title":null,"orient":"none","direction":"vertical","legendX":81,"legendY":94,"gradientLength":20,"gradientThickness":5,"values":[-1,0,1,2],"labelFontSize":6,"labelAlign":"right","labelOffset":-8}}}},
    {"transform":[{"filter":"datum.g=='DLL3'"}],"mark":"rect",
     "encoding":{"x":{"field":"s","type":"nominal","sort":null},"y":{"datum":-2.5,"type":"quantitative","scale":{"domain":[0,100]},"axis":null},"y2":{"datum":-4.5},
      "color":{"field":"s","type":"nominal","scale":{"domain":["P","T1","T3","T6"],"range":["#b3b3b3","#ec3d96","#3e2c90","#ef4a2b"]},"legend":null}}}
   ],"resolve":{"scale":{"y":"independent","color":"independent"},"axis":{"y":"independent"},"legend":{"color":"independent"}}}
 ],"spacing":42,"bounds":"flush"},
 {"hconcat":[
 {"hconcat":[
  {"width":97,"height":122,"title":{"text":"D","anchor":"start","frame":"group","dx":-38,"offset":27,"fontSize":13,"fontWeight":"bold"},"layer":[
    {"data":{"name":"dRef"},"mark":{"type":"rule","color":"#e8302c","strokeWidth":1.6,"strokeDash":[6,5]},
     "encoding":{"y":{"field":"lv","type":"quantitative","scale":{"domain":[-0.08,0.77],"nice":false,"zero":false},"title":"Enrichment score","axis":{"values":[0,0.2,0.4,0.6],"format":".1f","gridColor":"#e3e3e3","gridWidth":1.4,"ticks":false,"domain":false,"labelFontSize":7.5,"labelColor":"#4d4d4d","titleFontSize":10.7,"titleFontWeight":"normal","labelPadding":3,"titlePadding":4}}}},
    {"data":{"name":"dHits"},"mark":{"type":"rule","color":"#000000","strokeWidth":0.7},
     "encoding":{"x":{"field":"rank","type":"quantitative","scale":{"domain":[-420,8700],"nice":false,"zero":false},"title":"Rank","axis":{"values":[0,2000,4000,6000,8000],"format":",d","labelOverlap":false,"labelFlush":false,"gridColor":"#e3e3e3","gridWidth":1.4,"ticks":false,"domain":false,"labelFontSize":7,"labelColor":"#4d4d4d","titleFontSize":10.7,"titleFontWeight":"normal","labelPadding":3,"titlePadding":5}},
      "y":{"datum":-0.045,"title":"Enrichment score"},"y2":{"datum":0.045}}},
    {"data":{"values":[{}]},"mark":{"type":"rule","color":"#000000","strokeWidth":1.2},"encoding":{"y":{"datum":0}}},
    {"data":{"name":"dCurve"},"mark":{"type":"line","color":"#5cb73a","strokeWidth":1.8},"encoding":{"x":{"field":"rank","type":"quantitative","title":"Rank","axis":{"values":[0,2000,4000,6000,8000],"format":",d","labelOverlap":false,"labelFlush":false,"gridColor":"#e3e3e3","gridWidth":1.4,"ticks":false,"domain":false,"labelFontSize":7,"labelColor":"#4d4d4d","titleFontSize":10.7,"titleFontWeight":"normal","labelPadding":3,"titlePadding":5}},"y":{"field":"es","type":"quantitative","title":"Enrichment score"}}},
    {"data":{"values":[{}]},"mark":{"type":"text","fontSize":7.3,"align":"center"},"encoding":{"x":{"datum":4900,"title":"Rank","axis":{"values":[0,2000,4000,6000,8000],"format":",d","labelOverlap":false,"labelFlush":false,"gridColor":"#e3e3e3","gridWidth":1.4,"ticks":false,"domain":false,"labelFontSize":7,"labelColor":"#4d4d4d","titleFontSize":10.7,"titleFontWeight":"normal","labelPadding":3,"titlePadding":5}},"y":{"datum":0.664},"text":{"value":"GSEA P = 0.000446"}}}
  ]},
  {"width":69,"height":122,"title":{"text":"HALLMARK_MESENCHYMAL_TRANSITION","anchor":"end","frame":"group","dx":8,"offset":9,"fontSize":11.5},"data":{"name":"D"},"transform":[{"fold":["P","T1","T3","T6"],"as":["s","v"]}],
   "layer":[
    {"mark":"rect",
     "encoding":{"x":{"field":"s","type":"nominal","sort":null,"scale":{"paddingInner":0.15,"paddingOuter":0},"axis":{"title":null,"labelAngle":-30,"labelFontSize":7.1,"ticks":false,"domain":false,"labelPadding":1,"offset":6,"labelAlign":"right","labelBaseline":"top","labelExpr":"datum.value=='P'?'ICR-B169 Parental':datum.value=='T1'?'T1 MEK2ᴵ¹¹⁵ᴺ':datum.value=='T3'?'T3 MEK1ᴵ¹⁴¹ˢ':'T6 MEK1ᴷ⁵⁷ᴺ'"}},
      "y":{"field":"g","type":"nominal","sort":null,"axis":{"title":null,"labelFontSize":3.5,"ticks":false,"domain":false,"labelPadding":2}},
      "color":{"field":"v","type":"quantitative","scale":{"domain":[-2.5,0,4.5],"range":["#3a55a4","#ffffff","#e8262a"]},"legend":{"title":null,"orient":"none","direction":"vertical","legendX":81,"legendY":98,"gradientLength":16,"gradientThickness":5,"values":[-2,0,2,4],"labelFontSize":5.5,"labelAlign":"right","labelOffset":-8}}}},
    {"transform":[{"filter":"datum.g=='TAGLN'"}],"mark":"rect",
     "encoding":{"x":{"field":"s","type":"nominal","sort":null},"y":{"datum":-2.5,"type":"quantitative","scale":{"domain":[0,100]},"axis":null},"y2":{"datum":-4.5},
      "color":{"field":"s","type":"nominal","scale":{"domain":["P","T1","T3","T6"],"range":["#b3b3b3","#ec3d96","#3e2c90","#ef4a2b"]},"legend":null}}}
   ],"resolve":{"scale":{"y":"independent","color":"independent"},"axis":{"y":"independent"},"legend":{"color":"independent"}}}
 ],"spacing":36,"bounds":"flush"},
 {"hconcat":[
  {"width":95,"height":122,"title":{"text":"E","anchor":"start","frame":"group","dx":-43,"offset":27,"fontSize":13,"fontWeight":"bold"},"layer":[
    {"data":{"name":"eRef"},"mark":{"type":"rule","color":"#e8302c","strokeWidth":1.6,"strokeDash":[6,5]},
     "encoding":{"y":{"field":"lv","type":"quantitative","scale":{"domain":[-0.082,0.726],"nice":false,"zero":false},"title":"Enrichment score","axis":{"values":[0,0.2,0.4,0.6],"format":".1f","gridColor":"#e3e3e3","gridWidth":1.4,"ticks":false,"domain":false,"labelFontSize":7.5,"labelColor":"#4d4d4d","titleFontSize":10.7,"titleFontWeight":"normal","labelPadding":3,"titlePadding":4}}}},
    {"data":{"name":"eHits"},"mark":{"type":"rule","color":"#000000","strokeWidth":0.7},
     "encoding":{"x":{"field":"rank","type":"quantitative","scale":{"domain":[-320,8730],"nice":false,"zero":false},"title":"Rank","axis":{"values":[0,2000,4000,6000,8000],"format":",d","labelOverlap":false,"labelFlush":false,"gridColor":"#e3e3e3","gridWidth":1.4,"ticks":false,"domain":false,"labelFontSize":7,"labelColor":"#4d4d4d","titleFontSize":10.7,"titleFontWeight":"normal","labelPadding":3,"titlePadding":5}},
      "y":{"datum":-0.042,"title":"Enrichment score"},"y2":{"datum":0.042}}},
    {"data":{"values":[{}]},"mark":{"type":"rule","color":"#000000","strokeWidth":1.2},"encoding":{"y":{"datum":0}}},
    {"data":{"name":"eCurve"},"mark":{"type":"line","color":"#5cb73a","strokeWidth":1.8},"encoding":{"x":{"field":"rank","type":"quantitative","title":"Rank","axis":{"values":[0,2000,4000,6000,8000],"format":",d","labelOverlap":false,"labelFlush":false,"gridColor":"#e3e3e3","gridWidth":1.4,"ticks":false,"domain":false,"labelFontSize":7,"labelColor":"#4d4d4d","titleFontSize":10.7,"titleFontWeight":"normal","labelPadding":3,"titlePadding":5}},"y":{"field":"es","type":"quantitative","title":"Enrichment score"}}},
    {"data":{"values":[{}]},"mark":{"type":"text","fontSize":7.3,"align":"center"},"encoding":{"x":{"datum":4690,"title":"Rank","axis":{"values":[0,2000,4000,6000,8000],"format":",d","labelOverlap":false,"labelFlush":false,"gridColor":"#e3e3e3","gridWidth":1.4,"ticks":false,"domain":false,"labelFontSize":7,"labelColor":"#4d4d4d","titleFontSize":10.7,"titleFontWeight":"normal","labelPadding":3,"titlePadding":5}},"y":{"datum":0.645},"text":{"value":"GSEA P = 0.000337"}}}
  ]},
  {"width":67,"height":122,"title":{"text":"HUANG_DASATINIB_RESISTANCE_UP","anchor":"end","frame":"group","dx":0,"offset":9,"fontSize":11.5},"data":{"name":"E"},"transform":[{"fold":["P","T1","T3","T6"],"as":["s","v"]}],
   "layer":[
    {"mark":"rect",
     "encoding":{"x":{"field":"s","type":"nominal","sort":null,"scale":{"paddingInner":0.15,"paddingOuter":0},"axis":{"title":null,"labelAngle":-30,"labelFontSize":7.1,"ticks":false,"domain":false,"labelPadding":1,"offset":6,"labelAlign":"right","labelBaseline":"top","labelExpr":"datum.value=='P'?'ICR-B169 Parental':datum.value=='T1'?'T1 MEK2ᴵ¹¹⁵ᴺ':datum.value=='T3'?'T3 MEK1ᴵ¹⁴¹ˢ':'T6 MEK1ᴷ⁵⁷ᴺ'"}},
      "y":{"field":"g","type":"nominal","sort":null,"axis":{"title":null,"labelFontSize":4.4,"labelFontStyle":"italic","ticks":false,"domain":false,"labelPadding":2}},
      "color":{"field":"v","type":"quantitative","scale":{"domain":[-2.5,0,3],"range":["#3a55a4","#ffffff","#e8262a"]},"legend":{"title":null,"orient":"none","direction":"vertical","legendX":78,"legendY":98,"gradientLength":17,"gradientThickness":5,"values":[-2,0,2],"labelFontSize":5.5,"labelAlign":"right","labelOffset":-8}}}},
    {"transform":[{"filter":"datum.g=='NNMT'"}],"mark":"rect",
     "encoding":{"x":{"field":"s","type":"nominal","sort":null},"y":{"datum":-2.5,"type":"quantitative","scale":{"domain":[0,100]},"axis":null},"y2":{"datum":-4.5},
      "color":{"field":"s","type":"nominal","scale":{"domain":["P","T1","T3","T6"],"range":["#b3b3b3","#ec3d96","#3e2c90","#ef4a2b"]},"legend":null}}}
   ],"resolve":{"scale":{"y":"independent","color":"independent"},"axis":{"y":"independent"},"legend":{"color":"independent"}}}
 ],"spacing":40,"bounds":"flush"}
 ],"spacing":3,"resolve":{"scale":{"color":"independent"},"legend":{"color":"independent"}}}
],"spacing":11,"resolve":{"scale":{"color":"independent"},"legend":{"color":"independent"}}}
],
"spacing":26,"resolve":{"scale":{"color":"independent"},"legend":{"color":"independent"}}
}
